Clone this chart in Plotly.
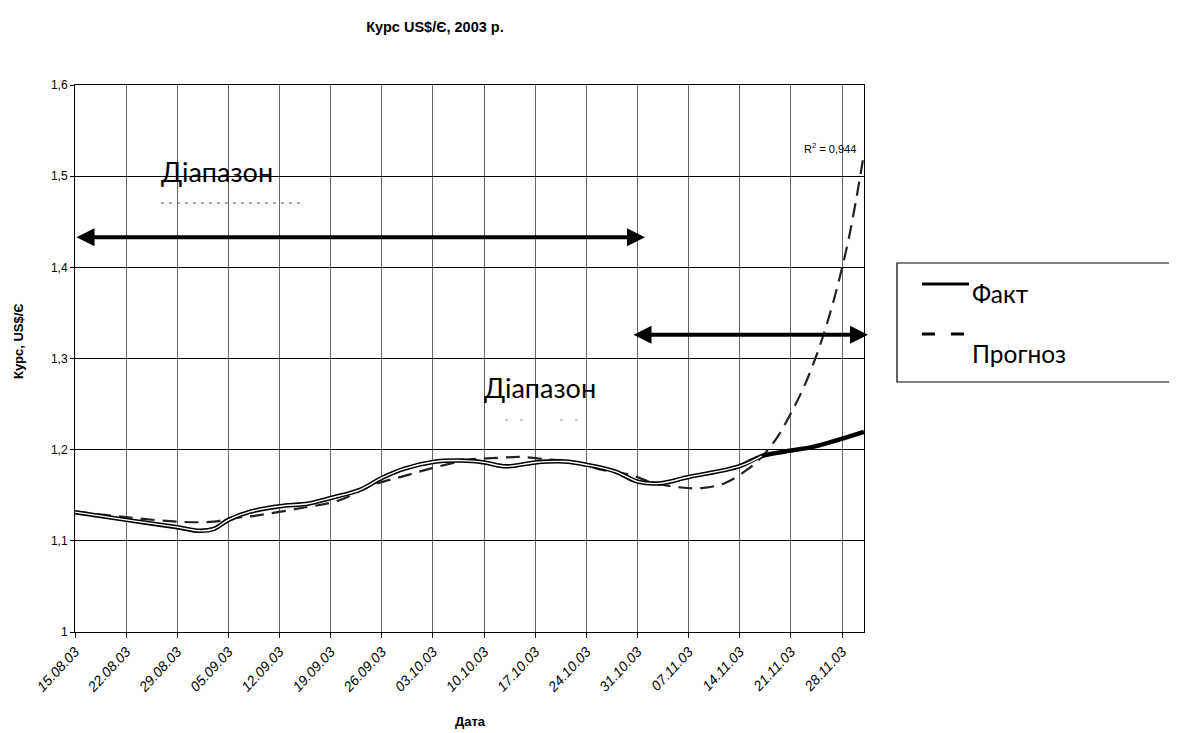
import plotly.graph_objects as go

# ---- data ----
fact_dates = ["2003-08-15", "2003-08-22", "2003-08-29", "2003-09-01", "2003-09-03",
              "2003-09-05", "2003-09-08", "2003-09-12", "2003-09-16", "2003-09-19",
              "2003-09-23", "2003-09-26", "2003-09-29", "2003-10-03", "2003-10-07",
              "2003-10-10", "2003-10-13", "2003-10-17", "2003-10-21", "2003-10-24",
              "2003-10-28", "2003-10-31", "2003-11-03", "2003-11-07", "2003-11-14",
              "2003-11-17", "2003-11-21", "2003-11-24", "2003-12-01"]
fact_values = [1.1315, 1.123, 1.115, 1.111, 1.113,
               1.123, 1.132, 1.138, 1.141, 1.147,
               1.156, 1.169, 1.179, 1.1865, 1.188,
               1.186, 1.1817, 1.186, 1.187, 1.1835,
               1.176, 1.165, 1.163, 1.170, 1.182,
               1.193, 1.199, 1.203, 1.2195]
double_until = "2003-11-17"

forecast_dates = ["2003-08-15", "2003-08-22", "2003-08-29", "2003-09-03", "2003-09-05",
                  "2003-09-09", "2003-09-15", "2003-09-20", "2003-09-25", "2003-09-29",
                  "2003-10-03", "2003-10-08", "2003-10-12", "2003-10-15", "2003-10-19",
                  "2003-10-23", "2003-10-26", "2003-10-30", "2003-11-02", "2003-11-06",
                  "2003-11-09", "2003-11-12", "2003-11-15", "2003-11-17", "2003-11-19",
                  "2003-11-21", "2003-11-23", "2003-11-25", "2003-11-27", "2003-11-29",
                  "2003-12-01"]
forecast_values = [1.132, 1.126, 1.121, 1.121, 1.124,
                   1.128, 1.136, 1.144, 1.162, 1.171,
                   1.180, 1.189, 1.191, 1.192, 1.189,
                   1.1855, 1.178, 1.1725, 1.164, 1.1585,
                   1.158, 1.1635, 1.178, 1.192, 1.212,
                   1.240, 1.273, 1.315, 1.368, 1.435,
                   1.525]

x_tick_dates = ["2003-08-15", "2003-08-22", "2003-08-29", "2003-09-05", "2003-09-12",
                "2003-09-19", "2003-09-26", "2003-10-03", "2003-10-10", "2003-10-17",
                "2003-10-24", "2003-10-31", "2003-11-07", "2003-11-14", "2003-11-21",
                "2003-11-28"]
x_tick_labels = ["15.08.03", "22.08.03", "29.08.03", "05.09.03", "12.09.03",
                 "19.09.03", "26.09.03", "03.10.03", "10.10.03", "17.10.03",
                 "24.10.03", "31.10.03", "07.11.03", "14.11.03", "21.11.03",
                 "28.11.03"]
y_tick_vals = [1.0, 1.1, 1.2, 1.3, 1.4, 1.5, 1.6]
y_tick_labels = ["1", "1,1", "1,2", "1,3", "1,4", "1,5", "1,6"]

title_text = "Курс US$/Є, 2003 р."
x_title = "Дата"
y_title = "Курс, US$/Є"
legend_labels = ["Факт", "Прогноз"]
range_label = "Діапазон"
r2_text = "R<sup>2</sup> = 0,944"
arrow1_y = 1.433
arrow2_y = 1.326

# ---- geometry (screen pixels; page body adds an 8px offset) ----
OFF = 8
W, H = 1177 - OFF, 733 - OFF
L, R, T, B = 75 - OFF, 864 - OFF, 85 - OFF, 632 - OFF
PW, PH = R - L, B - T


def px(xs):
    return (xs - OFF - L) / PW


def py(ys):
    return (B - (ys - OFF)) / PH


fig = go.Figure()

fig.add_trace(go.Scatter(
    x=forecast_dates, y=forecast_values, mode="lines",
    line=dict(color="#222222", width=2.2, dash="14px,8px", shape="spline", smoothing=1.0),
    hoverinfo="skip", showlegend=False))

fig.add_trace(go.Scatter(
    x=fact_dates, y=fact_values, mode="lines",
    line=dict(color="black", width=4.5, shape="spline", smoothing=1.0),
    hoverinfo="skip", showlegend=False))

idx = fact_dates.index(double_until)
fig.add_trace(go.Scatter(
    x=fact_dates[:idx + 1], y=fact_values[:idx + 1], mode="lines",
    line=dict(color="white", width=1.4, shape="spline", smoothing=1.0),
    hoverinfo="skip", showlegend=False))

font_main = "Liberation Sans, Arial, sans-serif"
font_narrow = "Liberation Sans Narrow, Liberation Sans, Arial, sans-serif"
font_text = "Lato, Noto Sans, sans-serif"

annotations = []
shapes = []

# arrows
for (x0, x1, yv) in [(px(75), px(645), arrow1_y), (px(632), px(868), arrow2_y)]:
    annotations.append(dict(
        x=x1, y=yv, ax=x0, ay=yv, xref="x domain", yref="y", axref="x domain", ayref="y",
        text="", showarrow=True, arrowhead=2, arrowside="end+start",
        arrowwidth=4, arrowsize=0.9, arrowcolor="black", standoff=0, startstandoff=0))

# range labels (with the clipped remains of their second line)
annotations.append(dict(x=px(159), y=py(171), xref="paper", yref="paper", text=range_label,
                        showarrow=False, xanchor="left", yanchor="middle",
                        font=dict(family=font_text, size=27, color="black")))
annotations.append(dict(x=px(482), y=py(387), xref="paper", yref="paper", text=range_label,
                        showarrow=False, xanchor="left", yanchor="middle",
                        font=dict(family=font_text, size=27, color="black")))
shapes.append(dict(type="line", xref="paper", yref="paper", x0=px(161), x1=px(301),
                   y0=py(203), y1=py(203), line=dict(color="#555555", width=1, dash="3px,5px")))
shapes.append(dict(type="line", xref="paper", yref="paper", x0=px(505), x1=px(523),
                   y0=py(420), y1=py(420), line=dict(color="#999999", width=1, dash="3px,12px")))
shapes.append(dict(type="line", xref="paper", yref="paper", x0=px(560), x1=px(578),
                   y0=py(420), y1=py(420), line=dict(color="#999999", width=1, dash="3px,12px")))

# R^2
annotations.append(dict(x=px(802), y=py(148), xref="paper", yref="paper", text=r2_text,
                        showarrow=False, xanchor="left", yanchor="middle",
                        font=dict(family=font_main, size=11, color="black")))

# axis titles
annotations.append(dict(x=px(471), y=py(721), xref="paper", yref="paper", text="<b>" + x_title + "</b>",
                        showarrow=False, xanchor="center", yanchor="middle",
                        font=dict(family=font_narrow, size=13, color="black")))
annotations.append(dict(x=px(18), y=py(341), xref="paper", yref="paper", text="<b>" + y_title + "</b>",
                        showarrow=False, xanchor="center", yanchor="middle", textangle=-90,
                        font=dict(family=font_main, size=13, color="black")))

# legend box
shapes.append(dict(type="rect", xref="paper", yref="paper", x0=px(897), x1=px(1175),
                   y0=py(382), y1=py(263), line=dict(color="black", width=1.2),
                   fillcolor="white"))
shapes.append(dict(type="line", xref="paper", yref="paper", x0=px(922), x1=px(969),
                   y0=py(284), y1=py(284), line=dict(color="black", width=3)))
shapes.append(dict(type="line", xref="paper", yref="paper", x0=px(922), x1=px(966),
                   y0=py(334), y1=py(334), line=dict(color="black", width=3, dash="13px,16px")))
annotations.append(dict(x=px(970), y=py(293), xref="paper", yref="paper", text=legend_labels[0],
                        showarrow=False, xanchor="left", yanchor="middle",
                        font=dict(family=font_text, size=24.5, color="black")))
annotations.append(dict(x=px(970), y=py(353), xref="paper", yref="paper", text=legend_labels[1],
                        showarrow=False, xanchor="left", yanchor="middle",
                        font=dict(family=font_text, size=24.5, color="black")))

fig.update_layout(
    width=W, height=H,
    margin=dict(l=L, r=W - R, t=T, b=H - B),
    paper_bgcolor="white", plot_bgcolor="white",
    showlegend=False,
    title=dict(text="<b>" + title_text + "</b>", x=px(435), xref="paper", xanchor="center",
               y=1 - (27 - OFF) / H, yref="container", yanchor="middle",
               font=dict(family=font_narrow, size=14.5, color="black")),
    annotations=annotations, shapes=shapes,
    xaxis=dict(type="date", range=["2003-08-15", "2003-12-01"],
               tickvals=x_tick_dates, ticktext=x_tick_labels, tickangle=-47,
               tickfont=dict(family=font_main, size=14, color="black", style="italic"),
               showgrid=True, gridcolor="#666666", gridwidth=1,
               showline=True, linecolor="black", linewidth=1, mirror=True,
               ticks="outside", ticklen=5, tickcolor="black", zeroline=False),
    yaxis=dict(range=[1.0, 1.6], tickvals=y_tick_vals, ticktext=y_tick_labels,
               tickfont=dict(family=font_main, size=12, color="black"),
               showgrid=True, gridcolor="black", gridwidth=1,
               showline=True, linecolor="black", linewidth=1, mirror=True,
               ticks="outside", ticklen=4, tickcolor="black", zeroline=False),
)

fig.write_html("out.html")
